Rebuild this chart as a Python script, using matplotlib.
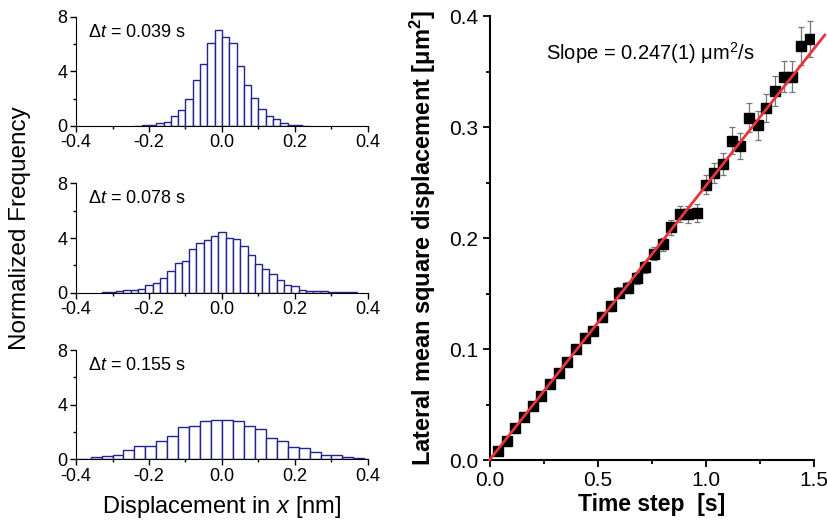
import numpy as np
import matplotlib
matplotlib.use('Agg')
import matplotlib.pyplot as plt
from matplotlib.ticker import MultipleLocator

plt.rcParams['font.family'] = ['Liberation Sans', 'DejaVu Sans']
plt.rcParams['mathtext.fontset'] = 'custom'
plt.rcParams['mathtext.rm'] = 'Liberation Sans'
plt.rcParams['mathtext.it'] = 'Liberation Sans:italic'
plt.rcParams['mathtext.bf'] = 'Liberation Sans:bold'

# histogram data (bin centres, bin width, normalized frequency)
dt_labels = ['0.039', '0.078', '0.155']

h1_centers = [-0.23, -0.21, -0.19, -0.17, -0.15, -0.13, -0.11, -0.09, -0.07, -0.05, -0.03, -0.01,
              0.01, 0.03, 0.05, 0.07, 0.09, 0.11, 0.13, 0.15, 0.17, 0.19, 0.21, 0.23]
h1_freq = [0.03, 0.05, 0.1, 0.2, 0.3, 0.71, 1.2, 1.98, 3.34, 4.54, 6.05, 7.0,
           6.49, 6.05, 4.37, 3.02, 2.07, 1.22, 0.73, 0.49, 0.2, 0.1, 0.08, 0.03]
h1_width = 0.02

h2_centers = [-0.32, -0.30, -0.28, -0.26, -0.24, -0.22, -0.20, -0.18, -0.16, -0.14, -0.12, -0.10,
              -0.08, -0.06, -0.04, -0.02, 0.00, 0.02, 0.04, 0.06, 0.08, 0.10, 0.12, 0.14,
              0.16, 0.18, 0.20, 0.22, 0.24, 0.26, 0.28, 0.30, 0.32, 0.34, 0.36]
h2_freq = [0.05, 0.07, 0.12, 0.17, 0.22, 0.29, 0.56, 0.71, 1.10, 1.56, 2.15, 2.34,
           3.17, 3.66, 3.88, 4.17, 4.44, 4.02, 3.95, 3.41, 2.73, 2.07, 1.76, 1.34,
           0.90, 0.54, 0.49, 0.22, 0.15, 0.12, 0.10, 0.05, 0.02, 0.04, 0.02]
h2_width = 0.02

h3_centers = [-0.405, -0.375, -0.345, -0.315, -0.285, -0.255, -0.225, -0.195, -0.165, -0.135,
              -0.105, -0.075, -0.045, -0.015, 0.015, 0.045, 0.075, 0.105, 0.135, 0.165,
              0.195, 0.225, 0.255, 0.285, 0.315, 0.345, 0.375, 0.405]
h3_freq = [0.03, 0.05, 0.15, 0.22, 0.34, 0.66, 1.0, 1.0, 1.37, 1.73,
           2.34, 2.44, 2.83, 2.85, 2.9, 2.83, 2.46, 2.22, 1.59, 1.37,
           0.9, 0.8, 0.51, 0.34, 0.29, 0.2, 0.07, 0.03]
h3_width = 0.03

# MSD data
time_step = [0.04, 0.08, 0.12, 0.16, 0.20, 0.24, 0.28, 0.32, 0.36, 0.40,
             0.44, 0.48, 0.52, 0.56, 0.60, 0.64, 0.68, 0.72, 0.76, 0.80,
             0.84, 0.88, 0.92, 0.96, 1.00, 1.04, 1.08, 1.12, 1.16, 1.20,
             1.24, 1.28, 1.32, 1.36, 1.40, 1.44, 1.48]
msd = [0.0081, 0.0174, 0.0288, 0.0385, 0.0486, 0.0577, 0.0685, 0.0786, 0.0883, 0.0997,
       0.1102, 0.1165, 0.1284, 0.1387, 0.1507, 0.1554, 0.1642, 0.1741, 0.1859, 0.1944,
       0.2096, 0.2214, 0.2214, 0.2228, 0.2482, 0.2588, 0.2667, 0.2877, 0.2829, 0.3084,
       0.3015, 0.3168, 0.3327, 0.3453, 0.3453, 0.3730, 0.3793]
msd_err = [0.001, 0.001, 0.0015, 0.002, 0.002, 0.0025, 0.003, 0.003, 0.0035, 0.0035,
           0.004, 0.004, 0.0045, 0.0045, 0.005, 0.005, 0.0055, 0.0055, 0.006, 0.006,
           0.0065, 0.007, 0.0075, 0.008, 0.0085, 0.009, 0.0095, 0.012, 0.012, 0.013,
           0.013, 0.0126, 0.0135, 0.014, 0.014, 0.017, 0.0165]
slope = 0.247
fit_t = [0.0, 1.55]

fig = plt.figure(figsize=(8.28, 5.25), dpi=100)

hists = [(h1_centers, h1_freq, h1_width), (h2_centers, h2_freq, h2_width), (h3_centers, h3_freq, h3_width)]
bottoms = [0.760, 0.4425, 0.125]
for i, (c, f, w) in enumerate(hists):
    ax = fig.add_axes([0.0918, bottoms[i], 0.3526, 0.208])
    ax.bar(c, f, width=w, color='white', edgecolor='#23238f', linewidth=1.0)
    ax.set_xlim(-0.4, 0.4)
    ax.set_ylim(0, 8)
    ax.spines['top'].set_visible(False)
    ax.spines['right'].set_visible(False)
    ax.xaxis.set_minor_locator(MultipleLocator(0.1))
    ax.yaxis.set_major_locator(MultipleLocator(4))
    ax.yaxis.set_minor_locator(MultipleLocator(2))
    ax.set_xticks([-0.4, -0.2, 0.0, 0.2, 0.4])
    ax.set_xticklabels(['-0.4', '-0.2', '0.0', '0.2', '0.4'])
    ax.tick_params(which='major', direction='out', length=4, width=1, labelsize=13, pad=2)
    ax.tick_params(which='minor', direction='out', length=2.5, width=1)
    ax.text(0.04, 0.86, r'$\Delta t$ = ' + dt_labels[i] + ' s', transform=ax.transAxes,
            fontsize=13, ha='left', va='center')
    if i == 2:
        ax.set_xlabel(r'Displacement in $x$ [nm]', fontsize=17, labelpad=7)

fig.text(0.024, 0.566, 'Normalized Frequency', rotation=90, fontsize=17.5, ha='center', va='center')

# MSD plot
ax2 = fig.add_axes([0.5912, 0.1238, 0.3918, 0.8457])
ax2.errorbar(time_step, msd, yerr=msd_err, fmt='none', ecolor='#777777', elinewidth=0.9,
             capsize=2.5, capthick=0.9, zorder=2)
ax2.plot(time_step, msd, 's', color='black', markersize=6.5, zorder=3)
ax2.plot(fit_t, [slope * t for t in fit_t], color='#e8343c', linewidth=2.0, zorder=4, clip_on=False)
ax2.set_xlim(0, 1.5)
ax2.set_ylim(0, 0.4)
ax2.spines['top'].set_visible(False)
ax2.spines['right'].set_visible(False)
for s in ['left', 'bottom']:
    ax2.spines[s].set_linewidth(1.5)
ax2.xaxis.set_major_locator(MultipleLocator(0.5))
ax2.xaxis.set_minor_locator(MultipleLocator(0.25))
ax2.yaxis.set_major_locator(MultipleLocator(0.1))
ax2.yaxis.set_minor_locator(MultipleLocator(0.05))
ax2.tick_params(which='major', direction='out', length=5, width=1.3, labelsize=15, pad=3)
ax2.tick_params(which='minor', direction='out', length=3, width=1.3)
ax2.set_xlabel('Time step  [s]', fontsize=16.5, fontweight='bold', labelpad=2)
ax2.set_ylabel(r'Lateral mean square displacement [μm$^{\mathbf{2}}$]', fontsize=17,
               fontweight='bold', labelpad=8)
ax2.text(0.262, 0.367, 'Slope = 0.247(1) μm$^{2}$/s', fontsize=14.5, ha='left', va='center')

fig.savefig('out.png', dpi=100)
